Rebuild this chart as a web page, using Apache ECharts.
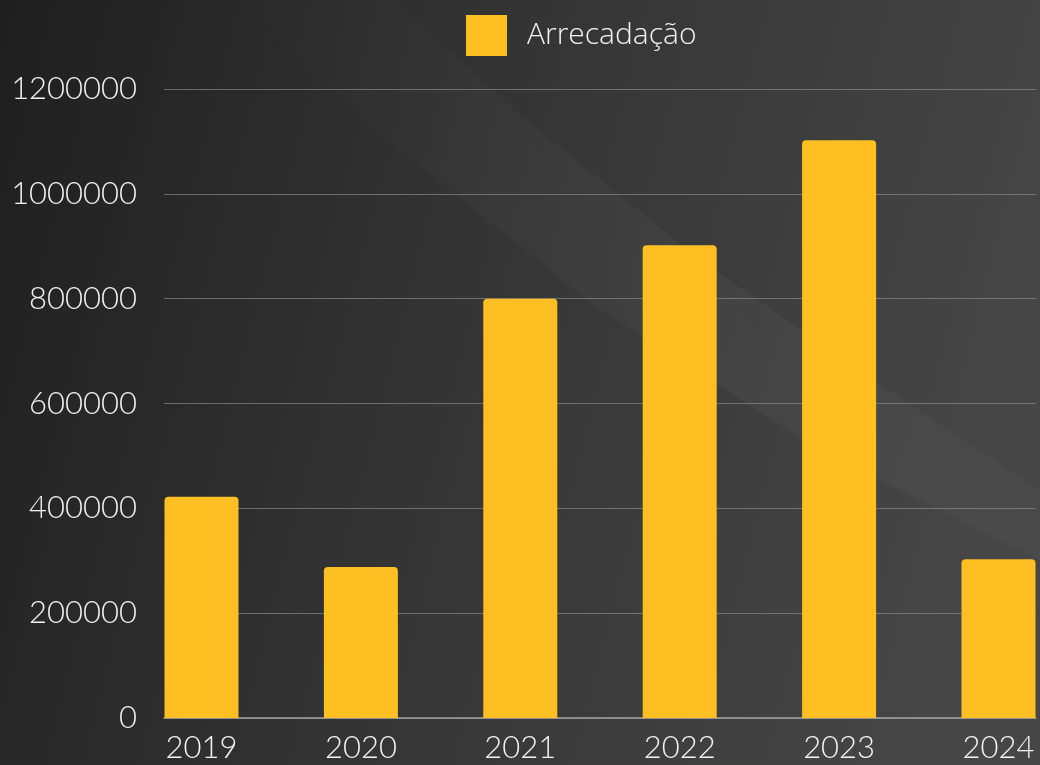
<!DOCTYPE html>
<html>
<head>
<meta charset="utf-8">
<script src="https://cdn.jsdelivr.net/npm/echarts@6/dist/echarts.min.js"></script>
<style>
html,body{margin:0;padding:0;background:#2a2a2a;}
#c{width:1040px;height:765px;}
</style>
</head>
<body>
<div id="c"></div>
<script>
const categories = ['2019', '2020', '2021', '2022', '2023', '2024'];
const arrecadacao = [422000, 288000, 800000, 902000, 1102000, 303000];
const seriesName = 'Arrecadação';
const yMin = 0, yMax = 1200000, yStep = 200000;

const FONT = 'Lato, "Open Sans", sans-serif';
const LEGEND_FONT = '"Open Sans", Lato, sans-serif';
const chart = echarts.init(document.getElementById('c'), null, {renderer: 'canvas'});

const option = {
  backgroundColor: {
    type: 'linear', x: 0, y: 0, x2: 1, y2: 0.35,
    colorStops: [
      {offset: 0, color: '#1f1f1f'},
      {offset: 0.45, color: '#333333'},
      {offset: 1, color: '#464646'}
    ]
  },
  graphic: [
    {
      type: 'polygon', silent: true, z: -10,
      shape: {points: [[230, 0], [395, 0], [520, 115], [700, 260], [880, 385], [1040, 490], [1040, 560], [820, 450], [600, 310], [400, 150]]},
      style: {
        fill: {
          type: 'linear', x: 0, y: 0, x2: 1, y2: 0,
          colorStops: [
            {offset: 0, color: 'rgba(255,255,255,0)'},
            {offset: 0.6, color: 'rgba(255,255,255,0.035)'},
            {offset: 1, color: 'rgba(255,255,255,0.02)'}
          ]
        }
      }
    }
  ],
  legend: {
    left: 466, top: 15, padding: 0,
    itemWidth: 41, itemHeight: 41,
    icon: 'rect',
    data: [seriesName],
    textStyle: {color: '#f2f2f2', fontSize: 30, fontFamily: LEGEND_FONT, fontWeight: 300, padding: [0, 0, 0, 15]}
  },
  grid: [
    {left: 201.5, width: 797, top: 89, bottom: 47, containLabel: false},
    {left: 164, right: 4, top: 89, bottom: 47, containLabel: false}
  ],
  xAxis: [
    {
      type: 'category', gridIndex: 0, data: categories, boundaryGap: false,
      axisLine: {show: false}, axisTick: {show: false},
      axisLabel: {color: '#f2f2f2', fontSize: 31, fontFamily: FONT, fontWeight: 300, margin: 14}
    },
    {
      type: 'value', gridIndex: 1, min: 0, max: 1,
      axisLine: {show: true, lineStyle: {color: '#a0a0a0', width: 1.5}},
      axisTick: {show: false}, axisLabel: {show: false}, splitLine: {show: false}
    }
  ],
  yAxis: [
    {
      type: 'value', gridIndex: 0, min: yMin, max: yMax, interval: yStep,
      show: false, splitLine: {show: false}
    },
    {
      type: 'value', gridIndex: 1, min: yMin, max: yMax, interval: yStep,
      axisLine: {show: false}, axisTick: {show: false},
      axisLabel: {color: '#f2f2f2', fontSize: 31, fontFamily: FONT, fontWeight: 300, margin: 27, formatter: v => String(v)},
      splitLine: {show: true, lineStyle: {color: 'rgba(150,150,150,0.6)', width: 1}}
    }
  ],
  series: [
    {
      name: seriesName, type: 'bar', xAxisIndex: 0, yAxisIndex: 0,
      data: arrecadacao, barWidth: 74, clip: false,
      itemStyle: {color: '#FDBF22', borderRadius: [4, 4, 0, 0]},
      z: 5
    }
  ]
};
chart.setOption(option);
</script>
</body>
</html>
